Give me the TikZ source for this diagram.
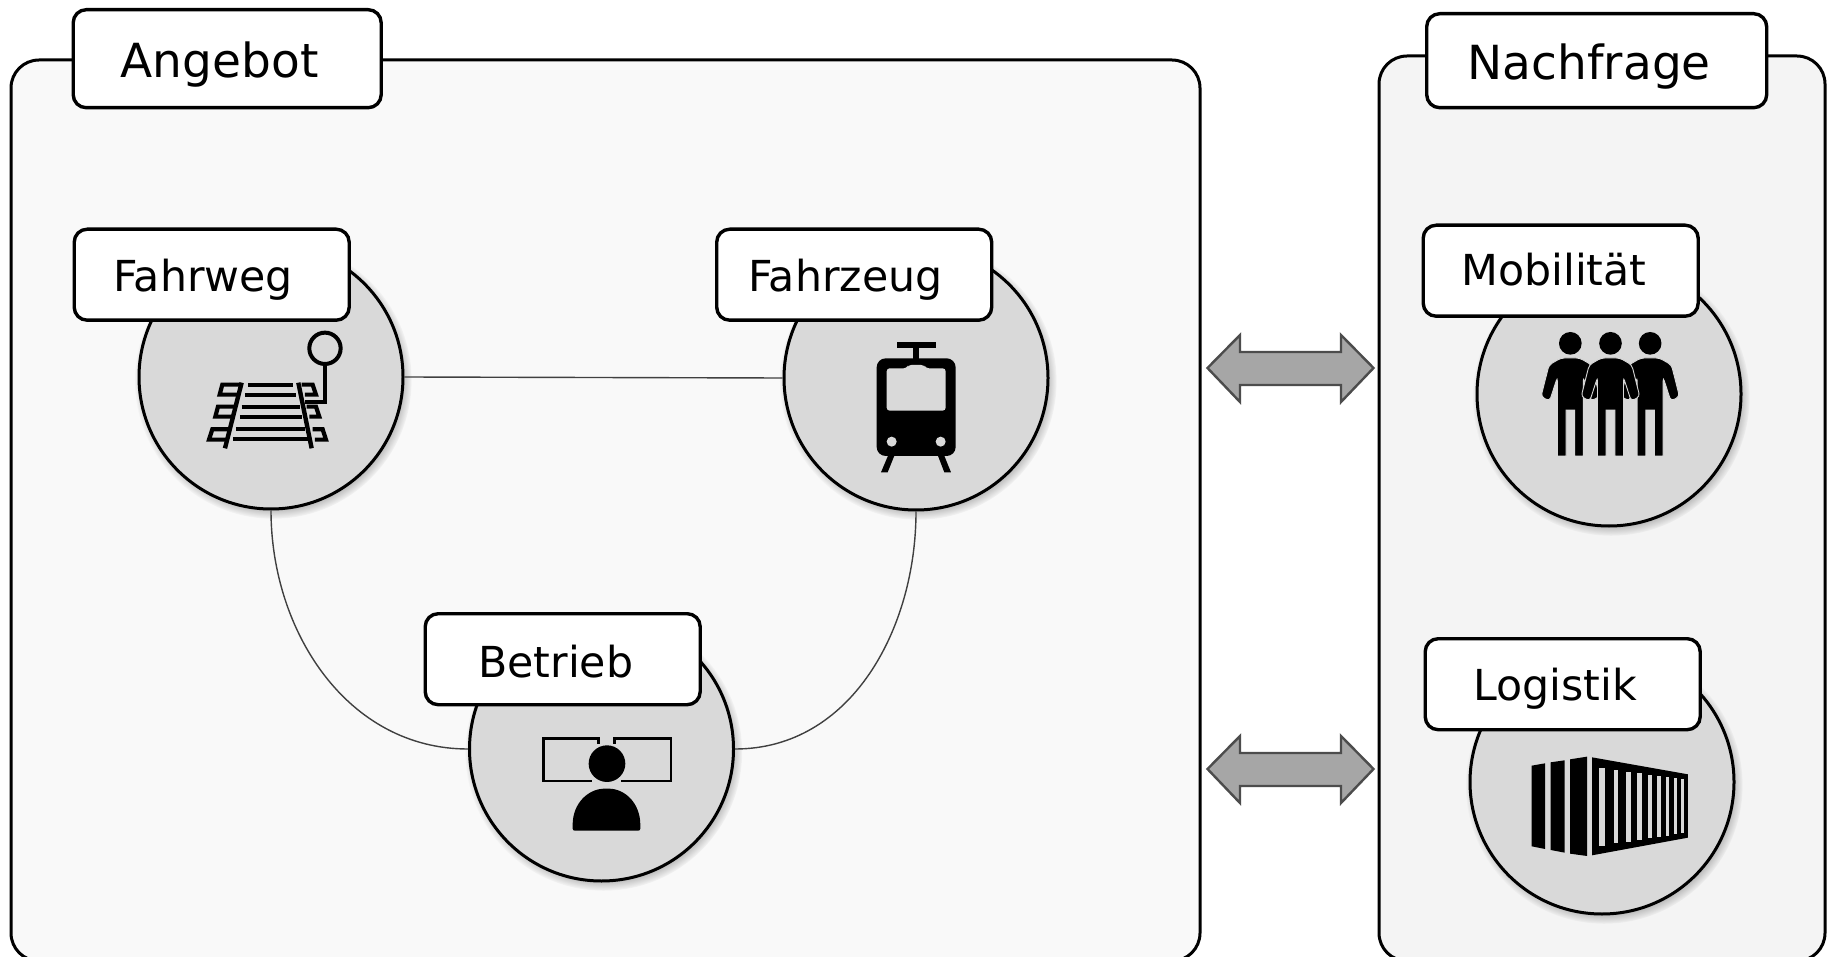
\documentclass[tikz,border=0pt]{standalone}
\usepackage{fontspec}
\setmainfont{DejaVu Sans}
\usetikzlibrary{shadows}

\definecolor{discgray}{HTML}{D9D9D9}
\definecolor{arrowgray}{HTML}{A6A6A6}

\tikzset{
  panel/.style={draw,line width=3pt,rounded corners=28pt},
  tagbox/.style={draw,line width=3.4pt,fill=white,rounded corners=13pt,anchor=north west,inner sep=0},
  tagtext/.style={inner sep=0,anchor=base west,font=\fontsize{42.7}{51}\selectfont},
  headtext/.style={inner sep=0,anchor=base west,font=\fontsize{47}{56}\selectfont},
  disc/.style={draw,circle,line width=3pt,fill=discgray,inner sep=0,minimum size=264pt,
    circular drop shadow={shadow scale=1.05,shadow xshift=2pt,shadow yshift=-3pt}},
  link/.style={line width=1.4pt,black!75},
  bigarrow/.style={draw=black!70,line width=2.4pt,fill=arrowgray},
  icon/.style={x=0.3333pt,y=-0.3333pt},
}

\begin{document}
\begin{tikzpicture}[x=1pt,y=-1pt]
  \useasboundingbox (0,0) rectangle (1834,957);

  % panels
  \fill[white] (0,0) rectangle (1834,957);
  \draw[panel,fill=black!2.5] (11,60) rectangle (1200,961);
  \draw[panel,fill=black!4.5] (1379,56) rectangle (1825,961);

  % discs
  \node[disc] (Fahrweg) at (271,377) {};
  \node[disc] (Fahrzeug) at (916,378) {};
  \node[disc] (Betrieb) at (601.5,749) {};
  \node[disc] (Mobilitaet) at (1609,394) {};
  \node[disc] (Logistik) at (1602,782) {};

  \draw[link] (Fahrweg.east) -- (Fahrzeug.west);
  \draw[link] (Fahrweg.south) to[out=-90,in=180] (Betrieb.west);
  \draw[link] (Fahrzeug.south) to[out=-90,in=0] (Betrieb.east);

  % double arrows
  \foreach \y in {368,769}
    {
    \draw[bigarrow] (1207.5,\y) -- (1240,\y-33) -- (1240,\y-16) -- (1341,\y-16) -- (1341,\y-33)
      -- (1373.5,\y) -- (1341,\y+34) -- (1341,\y+17) -- (1240,\y+17) -- (1240,\y+34) -- cycle;
    }

  % tags
  \node[tagbox,minimum width=308pt,minimum height=98pt] (tagAngebot) at (71.5,8) {};
  \node[tagbox,minimum width=340pt,minimum height=94pt] (tagNachfrage) at (1425,12) {};
  \node[tagbox,minimum width=275pt,minimum height=91pt] (tagFahrweg) at (72.5,227.5) {};
  \node[tagbox,minimum width=275pt,minimum height=91pt] (tagFahrzeug) at (715,227.5) {};
  \node[tagbox,minimum width=275pt,minimum height=91pt] (tagBetrieb) at (423.5,612) {};
  \node[tagbox,minimum width=275pt,minimum height=91pt] (tagMobilitaet) at (1421.5,223.5) {};
  \node[tagbox,minimum width=275pt,minimum height=91pt] (tagLogistik) at (1423.5,637) {};

  \node[headtext] at (120.5,77.5) {Angebot};
  \node[headtext] at (1467.5,79.5) {Nachfrage};
  \node[tagtext] at (113,291.5) {Fahrweg};
  \node[tagtext] at (748,291.5) {Fahrzeug};
  \node[tagtext] at (478,677) {Betrieb};
  \node[tagtext] at (1461,286) {Mobilität};
  \node[tagtext] at (1473,700) {Logistik};

  % track with signal
  \begin{scope}[shift={(130,220)},icon]
    \draw[line width=4pt] (585,385) circle [radius=47];
    \draw[line width=4pt] (585,432) -- (585,545) -- (525,545);
    \draw[line width=4.4pt] (335,488) -- (285,685);
    \draw[line width=4.4pt] (505,488) -- (545,685);
    \foreach \a/\b/\c/\d/\ya in {355/490/345/497/494, 335/510/330/515/560, 318/525/310/540/628}
      {
      \draw[line width=4.2pt] (\a,\ya) -- (\b,\ya);
      \draw[line width=4.2pt] (\c,\ya+30) -- (\d,\ya+30);
      }
    \draw[line width=4.2pt] (330,494) -- (277,494) -- (269,524) -- (322,524);
    \draw[line width=4.2pt] (315,560) -- (264,560) -- (256,590) -- (308,590);
    \draw[line width=4.2pt] (298,628) -- (247,628) -- (237,659) -- (292,659);
    \draw[line width=4.2pt] (515,494) -- (548,494) -- (558,524) -- (525,524);
    \draw[line width=4.2pt] (530,560) -- (558,560) -- (568,590) -- (538,590);
    \draw[line width=4.2pt] (548,628) -- (578,628) -- (588,659) -- (555,659);
  \end{scope}

  % tram
  \begin{scope}[shift={(780,220)},icon]
    \fill (350,367) rectangle (467,385);
    \fill (400,385) rectangle (417,420);
    \fill[rounded corners=9pt] (290,415) rectangle (527,708);
    \fill[discgray,rounded corners=3pt] (320,445) -- (380,445) -- (385,435) -- (432,435) -- (438,445)
      -- (497,445) -- (497,572) -- (320,572) -- cycle;
    \fill[discgray] (335,665) circle [radius=15];
    \fill[discgray] (482,665) circle [radius=15];
    \fill (325,705) -- (344,705) -- (323,757) -- (303,757) -- cycle;
    \fill (473,705) -- (492,705) -- (513,757) -- (493,757) -- cycle;
  \end{scope}

  % dispatcher at two screens
  \begin{scope}[shift={(460,600)},icon]
    \draw[line width=2.6pt] (415,432) -- (415,415) -- (250,415) -- (250,543) -- (395,543);
    \draw[line width=2.6pt] (463,432) -- (463,415) -- (633,415) -- (633,543) -- (482,543);
    \fill (441,491) circle [radius=55];
    \fill[rounded corners=2pt] (338,692) -- (338,680) .. controls (338,610) and (385,566) .. (440,566)
      .. controls (495,566) and (541,610) .. (541,680) -- (541,692) -- cycle;
  \end{scope}

  % group of people
  \begin{scope}[shift={(1460,270)},icon]
    \foreach \x in {331,570.5,451.5}
      {
      \fill (\x,220) circle [radius=34];
      \filldraw[draw=discgray,line width=0.9pt,rounded corners=3.5pt]
        (\x-28,264) -- (\x+28,264) -- (\x+64,285) -- (\x+88,380) -- (\x+62,393) -- (\x+39,322)
        [sharp corners] -- (\x+39,558) -- (\x+13,558) -- (\x+13,420) -- (\x-13,420) -- (\x-13,558) -- (\x-39,558)
        [rounded corners=3.5pt] -- (\x-39,322) -- (\x-62,393) -- (\x-88,380) -- (\x-64,285) -- cycle;
      }
  \end{scope}

  % container
  \begin{scope}[shift={(1460,680)},icon]
    \fill (215,257) -- (255,250) -- (255,507) -- (215,499) -- cycle;
    \fill (272,247) -- (314,241) -- (314,518) -- (272,510) -- cycle;
    \fill (330,238) -- (381,230) -- (381,528) -- (330,521) -- cycle;
    \fill (396,232) -- (684,283) -- (684,473) -- (396,526) -- cycle;
    \foreach \xa/\xb/\ya/\yb in {418/434/263/497,461/475/269/490,498/512/275/485,532/545/279/480,
      564/575/284/474,592/603/288/470,618/627/291/467,642/650/295/463,664/671/298/460}
      {
      \fill[discgray] (\xa,\ya) rectangle (\xb,\yb);
      }
  \end{scope}
\end{tikzpicture}
\end{document}
